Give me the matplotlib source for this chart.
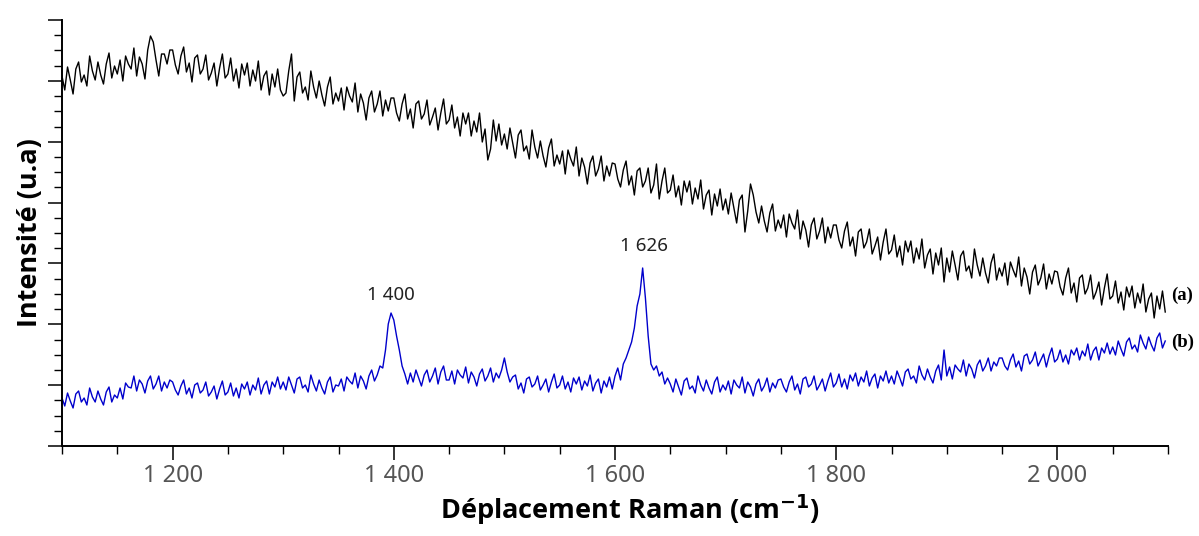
import numpy as np
import matplotlib
matplotlib.use("Agg")
import matplotlib.pyplot as plt
from matplotlib.ticker import MultipleLocator, FixedLocator, FuncFormatter

# Raman shift axis, 2.5 cm-1 steps
shift = np.arange(1100, 2100, 2.5)

# spectrum (a) - black, high fluorescence background
spec_a = [
    370, 356, 379, 366, 352, 377, 384, 364, 371, 360, 390, 375, 366, 384, 371, 362, 382, 393, 368, 380,
    372, 386, 365, 390, 382, 377, 398, 370, 389, 382, 367, 396, 410, 404, 386, 370, 392, 392, 382, 396,
    396, 381, 372, 390, 399, 374, 383, 364, 388, 391, 372, 377, 391, 366, 373, 383, 360, 378, 392, 368,
    372, 388, 365, 377, 358, 382, 371, 383, 360, 376, 365, 385, 356, 370, 375, 351, 372, 359, 377, 356,
    350, 353, 375, 392, 345, 369, 374, 353, 359, 346, 375, 359, 348, 365, 351, 340, 359, 369, 342, 353,
    345, 358, 336, 359, 350, 344, 363, 334, 352, 343, 326, 348, 355, 334, 342, 355, 330, 346, 335, 348,
    348, 333, 325, 342, 352, 327, 337, 318, 342, 345, 327, 332, 346, 321, 329, 338, 316, 333, 347, 322,
    326, 341, 318, 329, 310, 333, 322, 333, 310, 325, 314, 333, 304, 317, 286, 297, 326, 305, 322, 301,
    312, 297, 318, 303, 288, 311, 316, 295, 300, 287, 316, 299, 288, 305, 290, 279, 298, 307, 280, 291,
    282, 295, 272, 296, 287, 280, 299, 270, 288, 279, 262, 283, 290, 270, 277, 290, 265, 280, 270, 283,
    282, 267, 259, 276, 285, 261, 270, 251, 275, 278, 259, 265, 278, 253, 261, 282, 247, 265, 278, 253,
    256, 271, 249, 260, 241, 265, 254, 265, 242, 258, 247, 266, 237, 251, 256, 231, 252, 240, 257, 236,
    247, 232, 253, 238, 223, 246, 251, 214, 235, 262, 251, 234, 223, 240, 225, 214, 233, 242, 215, 226,
    218, 231, 209, 232, 223, 217, 236, 207, 225, 216, 199, 221, 228, 207, 215, 228, 203, 219, 208, 221,
    221, 206, 198, 215, 224, 200, 209, 190, 214, 217, 198, 204, 217, 192, 200, 209, 186, 204, 217, 192,
    196, 211, 189, 200, 181, 205, 194, 205, 183, 198, 187, 207, 178, 191, 197, 172, 193, 181, 198, 164,
    188, 174, 195, 181, 166, 190, 195, 175, 180, 168, 197, 181, 170, 188, 173, 163, 183, 192, 166, 178,
    170, 183, 161, 184, 176, 169, 189, 160, 178, 169, 152, 174, 181, 161, 168, 182, 157, 172, 162, 175,
    174, 159, 151, 168, 178, 153, 163, 144, 168, 171, 152, 158, 171, 147, 154, 164, 141, 158, 172, 147,
    150, 165, 143, 154, 136, 159, 149, 160, 138, 153, 143, 162, 134, 147, 153, 128, 150, 137, 155, 134,
]

# spectrum (b) - blue, with bands at 1400 and 1626
spec_b = [
    48, 40, 53, 45, 38, 52, 55, 44, 48, 41, 58, 49, 44, 55, 47, 41, 54, 59, 44, 51,
    48, 58, 47, 63, 59, 58, 70, 55, 66, 62, 53, 65, 70, 57, 62, 70, 55, 64, 58, 66,
    64, 56, 51, 60, 66, 52, 58, 48, 61, 63, 53, 56, 64, 50, 54, 60, 47, 57, 65, 51,
    54, 63, 50, 58, 48, 62, 57, 64, 51, 61, 56, 68, 52, 61, 65, 52, 64, 59, 69, 57,
    64, 56, 69, 61, 53, 67, 69, 58, 61, 54, 71, 62, 55, 66, 58, 52, 64, 69, 54, 61,
    60, 67, 55, 69, 65, 62, 73, 58, 70, 65, 57, 70, 76, 65, 71, 80, 78, 96, 122, 133,
    126, 110, 96, 80, 72, 62, 73, 64, 76, 68, 60, 71, 76, 64, 70, 78, 62, 74, 80, 66,
    66, 75, 62, 76, 71, 68, 79, 63, 74, 69, 60, 72, 77, 65, 70, 78, 64, 73, 68, 76,
    88, 74, 64, 69, 71, 57, 63, 53, 67, 69, 59, 62, 70, 56, 61, 67, 54, 64, 72, 58,
    61, 70, 57, 64, 54, 68, 62, 69, 56, 65, 60, 71, 55, 63, 67, 53, 65, 59, 69, 57,
    70, 78, 66, 82, 88, 96, 104, 118, 140, 152, 178, 148, 110, 82, 76, 80, 70, 74, 62, 68,
    62, 54, 67, 59, 51, 65, 68, 57, 60, 53, 70, 61, 55, 66, 58, 52, 64, 69, 54, 61,
    56, 65, 52, 66, 61, 58, 69, 53, 64, 59, 50, 62, 67, 55, 60, 68, 54, 63, 58, 66,
    67, 59, 54, 64, 70, 56, 62, 52, 67, 69, 59, 62, 70, 56, 61, 67, 55, 65, 73, 59,
    63, 72, 59, 67, 57, 71, 65, 73, 60, 69, 64, 75, 60, 68, 72, 58, 70, 65, 75, 63,
    70, 62, 75, 68, 60, 74, 77, 67, 70, 63, 80, 71, 66, 77, 69, 63, 75, 81, 66, 96,
    70, 79, 67, 81, 77, 74, 86, 70, 82, 77, 68, 81, 86, 75, 80, 88, 75, 84, 80, 88,
    88, 80, 76, 86, 92, 79, 85, 75, 90, 92, 82, 86, 94, 80, 86, 92, 79, 90, 98, 84,
    87, 96, 84, 91, 82, 96, 91, 98, 86, 95, 90, 102, 86, 95, 99, 86, 98, 93, 103, 92,
    99, 91, 105, 97, 90, 104, 108, 97, 101, 94, 111, 103, 97, 109, 101, 95, 108, 113, 98, 105,
]

peak_pos = [1397, 1626]
peak_txt = ["1 400", "1 626"]
peak_h = [151, 200]

fig = plt.figure(figsize=(11.99, 5.36), dpi=100)
ax = fig.add_axes([62 / 1199, 1 - 446 / 536, (1168 - 62) / 1199, (446 - 20) / 536])

ax.plot(shift, spec_a, color="black", lw=1.0)
ax.plot(shift, spec_b, color="#0000cc", lw=1.0)

for p, t, h in zip(peak_pos, peak_txt, peak_h):
    ax.text(p, h, t, ha="center", va="center", fontsize=13.5,
            family="Noto Sans", color="#222222")

ax.text(2103, 151, "(a)", ha="left", va="center", fontsize=13.5,
        family="Liberation Serif", fontweight="bold", clip_on=False)
ax.text(2103, 104, "(b)", ha="left", va="center", fontsize=13.5,
        family="Liberation Serif", fontweight="bold", clip_on=False)

ax.set_xlim(1100, 2100)
ax.set_ylim(0, 426)

ax.xaxis.set_major_locator(FixedLocator([1200, 1400, 1600, 1800, 2000]))
ax.xaxis.set_minor_locator(MultipleLocator(50))
ax.xaxis.set_major_formatter(FuncFormatter(lambda v, pos: f"{int(v):,}".replace(",", " ")))
ax.yaxis.set_major_locator(FixedLocator(np.linspace(0, 426, 8)))
ax.yaxis.set_minor_locator(FixedLocator(np.linspace(0, 426, 29)))
ax.set_yticklabels([])

ax.tick_params(axis="both", which="major", length=10, width=1.1, direction="out")
ax.tick_params(axis="both", which="minor", length=6, width=1.0, direction="out")
ax.tick_params(axis="x", labelsize=17, labelcolor="#555555", pad=3)
for lab in ax.get_xticklabels():
    lab.set_family("Noto Sans")

for s in ["top", "right"]:
    ax.spines[s].set_visible(False)
ax.spines["left"].set_linewidth(1.4)
ax.spines["bottom"].set_linewidth(1.4)

ax.set_xlabel("Déplacement Raman (cm$^{\\mathbf{-1}}$)", fontsize=19.5, fontweight="bold",
              family="Open Sans", labelpad=3, x=0.513)
ax.set_ylabel("Intensité (u.a)", fontsize=19.5, fontweight="bold",
              family="Open Sans", labelpad=0)

fig.savefig("out.png", dpi=100)
